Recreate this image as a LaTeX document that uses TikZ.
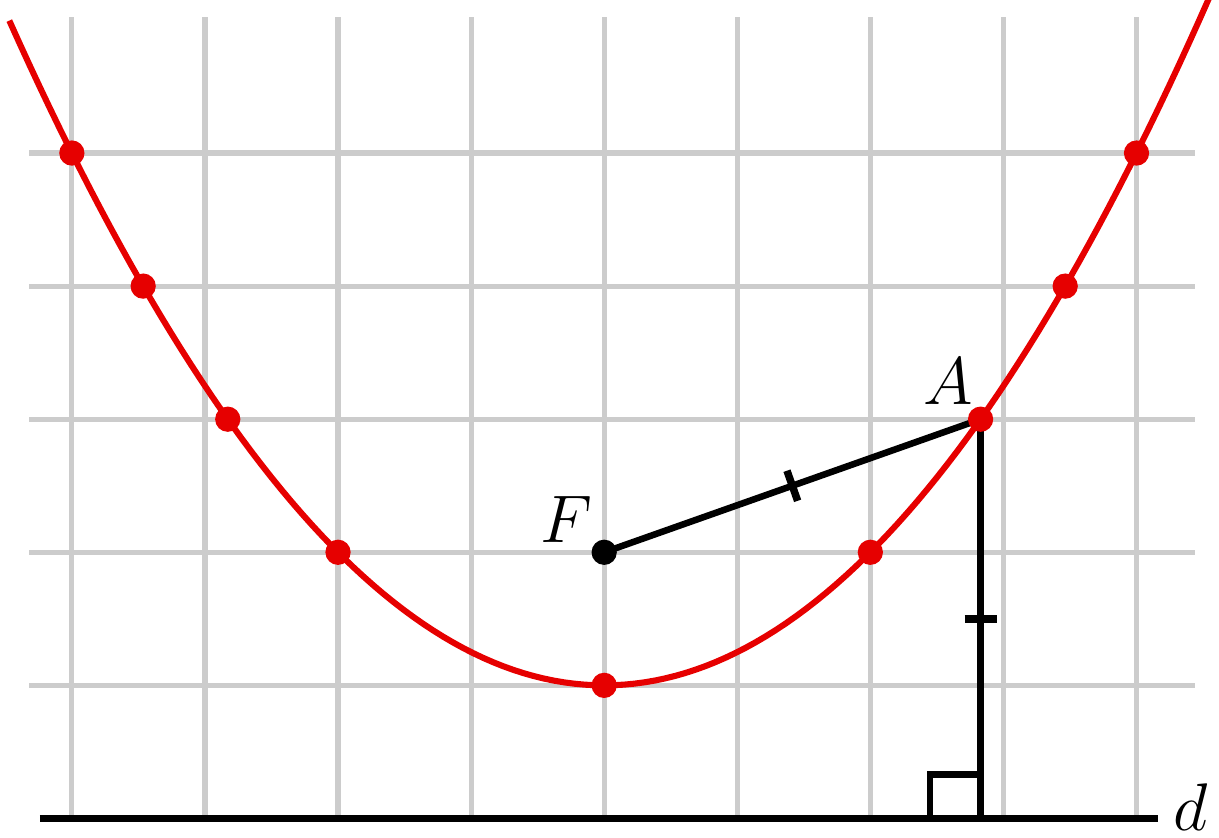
\documentclass[tikz,border=0pt]{standalone}
\usepackage{tikz}
\usetikzlibrary{decorations.markings,positioning}

\definecolor{curvered}{RGB}{230,0,0}
\definecolor{gridgray}{RGB}{204,204,204}

\tikzset{
  gridline/.style={gridgray, line width=1.1pt},
  curve/.style={curvered, line width=1.3pt},
  blackline/.style={black, line width=1.4pt},
  reddot/.style={circle, fill=curvered, inner sep=0pt, minimum size=0.19cm},
  focusdot/.style={circle, fill=black, inner sep=0pt, minimum size=0.19cm},
  midtick/.style={decoration={markings,
      mark=at position 0.5 with {\draw[line width=1.6pt] (0,-0.12) -- (0,0.12);}},
    postaction={decorate}},
  lab/.style={font=\fontsize{15}{18}\selectfont, inner sep=0pt}
}

\begin{document}
\begin{tikzpicture}

\useasboundingbox (-4.54,-1.14) rectangle (4.62,5.15);

% grid
\foreach \x in {-4,...,4}
  \draw[gridline] (\x,-1) -- (\x,5.02);
\foreach \y in {0,...,4}
  \draw[gridline] (-4.32,\y) -- (4.44,\y);

% points
\coordinate (F) at (0,1);
\coordinate (V) at (0,0);
\coordinate (A) at ({2*sqrt(2)},2);
\coordinate (H) at ({2*sqrt(2)},-1);
\coordinate (dl) at (-4.24,-1);
\coordinate (dr) at (4.16,-1);

% directrix
\draw[line width=1.4pt] (dl) -- (dr);

% parabola
\draw[curve, domain=-4.47:4.55, samples=120] plot (\x,{\x*\x/4});

% distances
\draw[blackline, midtick] (F) -- (A);
\draw[blackline, midtick] (A) -- (H);

% right angle
\draw[blackline] ([xshift=-0.38cm]H) -- ++(0,0.33) -- ++(0.38,0);

% points on the curve
\foreach \px/\py in {-4/4, 4/4, {-2*sqrt(3)}/3, {2*sqrt(3)}/3,
                     {-2*sqrt(2)}/2, -2/1, 2/1, 0/0}
  \node[reddot] at ({\px},\py) {};
\node[reddot] (Adot) at (A) {};
\node[focusdot] (Fdot) at (F) {};

% labels
\node[lab, anchor=base east] at ([xshift=-0.05cm,yshift=0.11cm]A) {$A$};
\node[lab, anchor=base east] at ([xshift=-0.08cm,yshift=0.07cm]F) {$F$};
\node[lab, anchor=base west] at ([xshift=0.11cm,yshift=-0.09cm]dr) {$d$};

\end{tikzpicture}
\end{document}
